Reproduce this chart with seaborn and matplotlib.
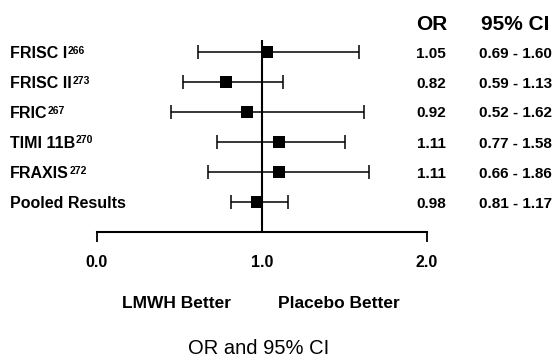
import numpy as np
import pandas as pd
import matplotlib
matplotlib.use("Agg")
import matplotlib.pyplot as plt
import seaborn as sns

# ---- data ----
studies = ["FRISC I", "FRISC II", "FRIC", "TIMI 11B", "FRAXIS", "Pooled Results"]
refs = ["266", "273", "267", "270", "272", ""]
or_plot = [1.03, 0.78, 0.91, 1.10, 1.10, 0.97]        # marker positions as drawn
ci_low_plot = [0.61, 0.52, 0.45, 0.73, 0.67, 0.81]    # whisker left ends as drawn
ci_high_plot = [1.59, 1.13, 1.62, 1.50, 1.65, 1.16]   # whisker right ends as drawn
or_text = ["1.05", "0.82", "0.92", "1.11", "1.11", "0.98"]
ci_text = ["0.69 - 1.60", "0.59 - 1.13", "0.52 - 1.62", "0.77 - 1.58", "0.66 - 1.86", "0.81 - 1.17"]
x_tick_values = [0.0, 1.0, 2.0]
x_tick_labels = ["0.0", "1.0", "2.0"]

sns.set_theme(style="white")
plt.rcParams["font.family"] = ["Liberation Sans", "DejaVu Sans"]

W, H = 559, 359
fig = plt.figure(figsize=(W / 100, H / 100), dpi=100)
fig.patch.set_facecolor("white")


def rect(x0, y0, w, h):
    return [x0 / W, 1 - (y0 + h) / H, w / W, h / H]


def fx(x):
    return x / W


def fy(y):
    return 1 - y / H


ax = fig.add_axes(rect(97, 22, 330, 210))
ax.set_facecolor("white")

rows = list(range(len(studies)))
df = pd.DataFrame({"study": studies, "row": rows, "or": or_plot,
                   "lo": ci_low_plot, "hi": ci_high_plot})

err = np.array([df["or"] - df["lo"], df["hi"] - df["or"]])
ax.errorbar(df["or"], df["row"], xerr=err, fmt="none", ecolor="black",
            elinewidth=1.1, capsize=5, capthick=1.1, zorder=2)
sns.scatterplot(data=df, x="or", y="row", marker="s", s=85, color="black",
                edgecolor="black", linewidth=0, ax=ax, zorder=3, legend=False)

ax.vlines(1.0, -0.4, 6, color="black", lw=1.5, zorder=1)

ax.set_xlim(0, 2)
ax.set_ylim(6, -1)
for s in ["top", "right", "left"]:
    ax.spines[s].set_visible(False)
ax.spines["bottom"].set_color("black")
ax.spines["bottom"].set_linewidth(1.5)
ax.set_xticks([x_tick_values[0], x_tick_values[-1]])
ax.set_xticklabels([])
ax.tick_params(axis="x", direction="out", length=7, width=1.3, bottom=True, color="black")
ax.set_yticks([])
ax.set_xlabel("")
ax.set_ylabel("")

renderer = fig.canvas.get_renderer()

# row texts
for i, (name, ref, o, c) in enumerate(zip(studies, refs, or_text, ci_text)):
    y = 52 + 30 * i
    t = fig.text(fx(10), fy(y + 6), name, ha="left", va="baseline",
                 fontsize=11.5, fontweight="bold", color="black")
    if ref:
        bb = t.get_window_extent(renderer=renderer)
        fig.text(fx(bb.x1 + 0.5), fy(y + 1.5), ref, ha="left", va="baseline",
                 fontsize=7.5, fontweight="bold", color="black")
    fig.text(fx(431), fy(y + 5.5), o, ha="center", va="baseline",
             fontsize=11, fontweight="bold", color="black")
    fig.text(fx(479), fy(y + 5.5), c, ha="left", va="baseline",
             fontsize=11, fontweight="bold", color="black")

# headers
fig.text(fx(432), fy(30), "OR", ha="center", va="baseline",
         fontsize=15, fontweight="bold", color="black")
fig.text(fx(515), fy(30), "95% CI", ha="center", va="baseline",
         fontsize=15, fontweight="bold", color="black")

# tick labels
for v, t in zip(x_tick_values, x_tick_labels):
    fig.text(fx(97 + 165 * v), fy(267), t, ha="center", va="baseline",
             fontsize=11.5, fontweight="bold", color="black")

fig.text(fx(177), fy(308), "LMWH Better", ha="center", va="baseline",
         fontsize=12.5, fontweight="bold", color="black")
fig.text(fx(339), fy(308), "Placebo Better", ha="center", va="baseline",
         fontsize=12.5, fontweight="bold", color="black")
fig.text(fx(259), fy(354), "OR and 95% CI", ha="center", va="baseline",
         fontsize=14.5, color="black")

fig.savefig("out.png", dpi=100, facecolor="white")
